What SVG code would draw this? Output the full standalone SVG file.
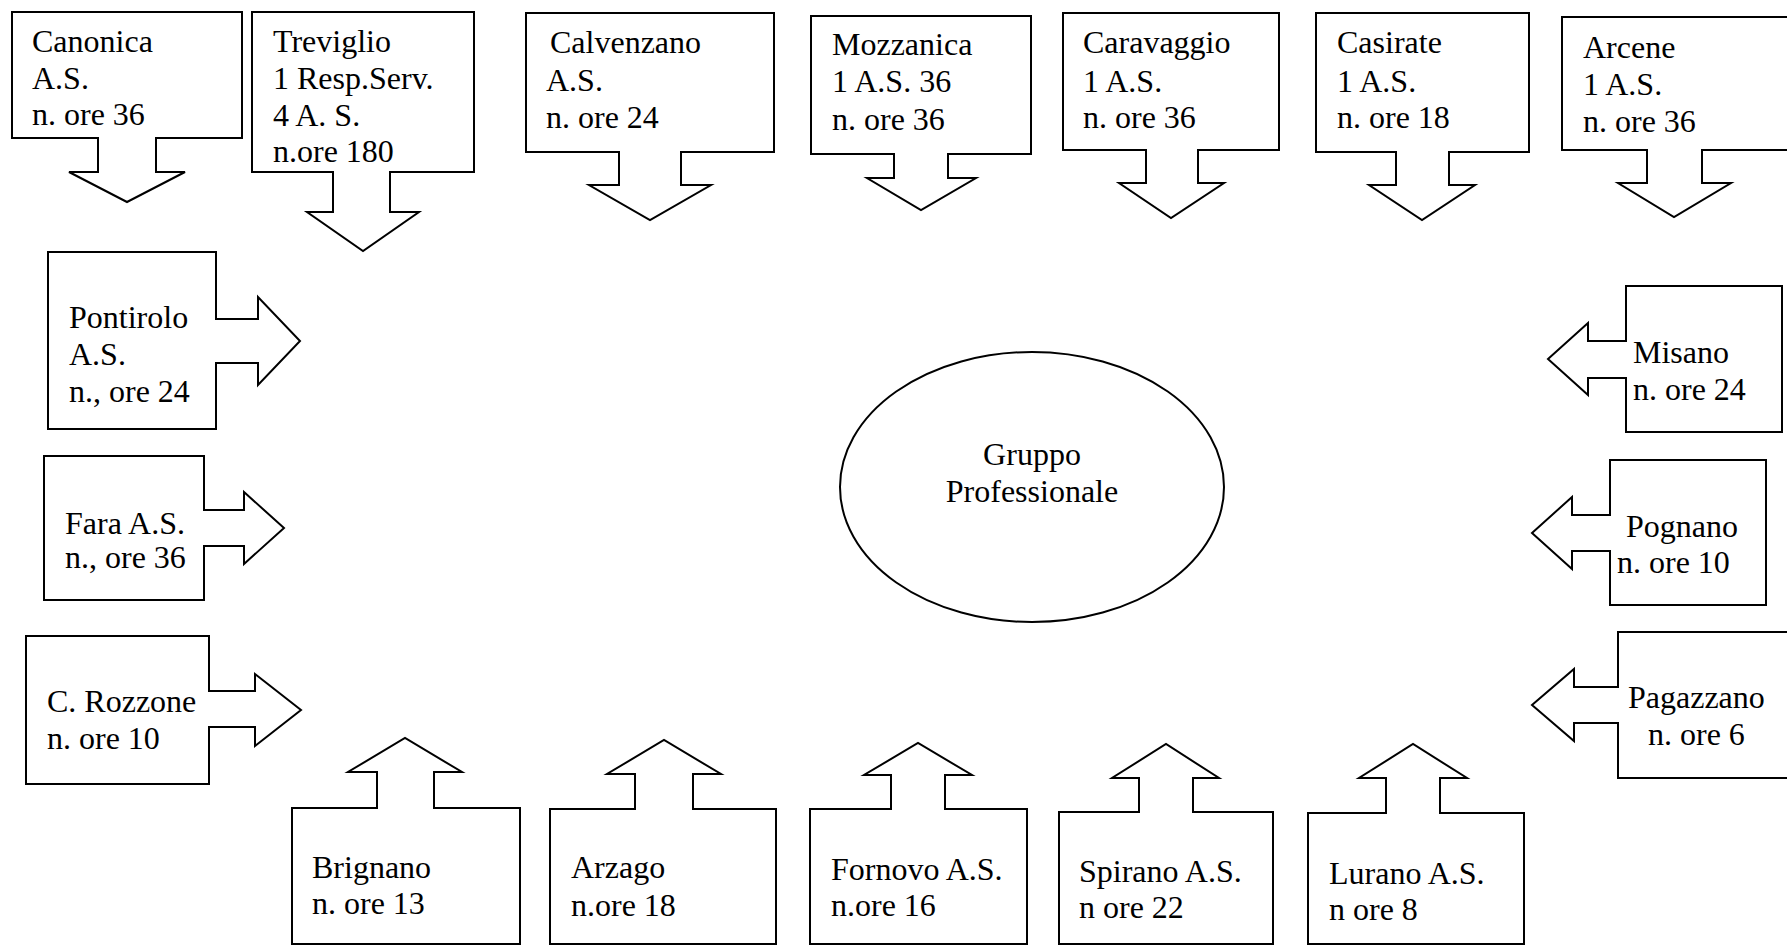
<svg xmlns="http://www.w3.org/2000/svg" width="1787" height="946" viewBox="0 0 1787 946">
<style>
.b{fill:#fff;stroke:#000;stroke-width:2}
.a{fill:#fff;stroke:#000;stroke-width:2;stroke-linejoin:miter}
.t{font-family:"Liberation Serif","Times New Roman",serif;font-size:32px;fill:#000}
.c{text-anchor:middle}
</style>
<rect width="1787" height="946" fill="#fff"/>
<g id="nodes">
<g id="canonica"><rect class="b" x="12" y="12" width="230" height="126"/><text class="t" x="32" y="52">Canonica</text><text class="t" x="32" y="89">A.S.</text><text class="t" x="32" y="125">n. ore 36</text></g>
<g id="treviglio"><rect class="b" x="252" y="12" width="222" height="160"/><text class="t" x="273" y="52">Treviglio</text><text class="t" x="273" y="89">1 Resp.Serv.</text><text class="t" x="273" y="126">4 A. S.</text><text class="t" x="273" y="162">n.ore 180</text></g>
<g id="calvenzano"><rect class="b" x="526" y="13" width="248" height="139"/><text class="t" x="550" y="53">Calvenzano</text><text class="t" x="546" y="91">A.S.</text><text class="t" x="546" y="128">n. ore 24</text></g>
<g id="mozzanica"><rect class="b" x="811" y="16" width="220" height="138"/><text class="t" x="832" y="55">Mozzanica</text><text class="t" x="832" y="92">1 A.S. 36</text><text class="t" x="832" y="130">n. ore 36</text></g>
<g id="caravaggio"><rect class="b" x="1063" y="13" width="216" height="137"/><text class="t" x="1083" y="53">Caravaggio</text><text class="t" x="1083" y="92">1 A.S.</text><text class="t" x="1083" y="128">n. ore 36</text></g>
<g id="casirate"><rect class="b" x="1316" y="13" width="213" height="139"/><text class="t" x="1337" y="53">Casirate</text><text class="t" x="1337" y="92">1 A.S.</text><text class="t" x="1337" y="128">n. ore 18</text></g>
<g id="arcene"><rect class="b" x="1562" y="17" width="240" height="133"/><text class="t" x="1583" y="58">Arcene</text><text class="t" x="1583" y="95">1 A.S.</text><text class="t" x="1583" y="132">n. ore 36</text></g>
<g id="pontirolo"><rect class="b" x="48" y="252" width="168" height="177"/><text class="t" x="69" y="328">Pontirolo</text><text class="t" x="69" y="365">A.S.</text><text class="t" x="69" y="402">n., ore 24</text></g>
<g id="fara"><rect class="b" x="44" y="456" width="160" height="144"/><text class="t" x="65" y="534">Fara A.S.</text><text class="t" x="65" y="568">n., ore 36</text></g>
<g id="rozzone"><rect class="b" x="26" y="636" width="183" height="148"/><text class="t" x="47" y="712">C. Rozzone</text><text class="t" x="47" y="749">n. ore 10</text></g>
<g id="misano"><rect class="b" x="1626" y="286" width="156" height="146"/><text class="t" x="1633" y="363">Misano</text><text class="t" x="1633" y="400">n. ore 24</text></g>
<g id="pognano"><rect class="b" x="1610" y="460" width="156" height="145"/><text class="t" x="1626" y="537">Pognano</text><text class="t" x="1617" y="573">n. ore 10</text></g>
<g id="pagazzano"><rect class="b" x="1618" y="632" width="200" height="146"/><text class="t" x="1628" y="708">Pagazzano</text><text class="t" x="1648" y="745">n. ore 6</text></g>
<g id="brignano"><rect class="b" x="292" y="808" width="228" height="136"/><text class="t" x="312" y="878">Brignano</text><text class="t" x="312" y="914">n. ore 13</text></g>
<g id="arzago"><rect class="b" x="550" y="809" width="226" height="135"/><text class="t" x="571" y="878">Arzago</text><text class="t" x="571" y="916">n.ore 18</text></g>
<g id="fornovo"><rect class="b" x="810" y="809" width="217" height="135"/><text class="t" x="831" y="880">Fornovo A.S.</text><text class="t" x="831" y="916">n.ore 16</text></g>
<g id="spirano"><rect class="b" x="1059" y="812" width="214" height="132"/><text class="t" x="1079" y="882">Spirano A.S.</text><text class="t" x="1079" y="918">n ore 22</text></g>
<g id="lurano"><rect class="b" x="1308" y="813" width="216" height="131"/><text class="t" x="1329" y="884">Lurano A.S.</text><text class="t" x="1329" y="920">n ore 8</text></g>
<g id="gruppo"><ellipse class="b" cx="1032" cy="487" rx="192" ry="135"/><text class="t c" x="1032" y="465">Gruppo</text><text class="t c" x="1032" y="502">Professionale</text></g>
</g>
<g id="connectors">
<path class="a" d="M98,137 V172 H69 L127,202 L185,172 H156 V137"/>
<path class="a" d="M333,171 V212 H307 L363,251 L419,212 H390 V171"/>
<path class="a" d="M619,151 V185 H589 L650,220 L711,185 H681 V151"/>
<path class="a" d="M894,153 V178 H867 L921,210 L976,178 H948 V153"/>
<path class="a" d="M1146,149 V183 H1119 L1171,218 L1224,183 H1198 V149"/>
<path class="a" d="M1396,151 V185 H1369 L1422,220 L1475,185 H1449 V151"/>
<path class="a" d="M1647,149 V183 H1618 L1674,217 L1731,183 H1702 V149"/>
<path class="a" d="M215,319 H258 V297 L300,341 L258,385 V363 H215"/>
<path class="a" d="M203,510 H244 V492 L284,528 L244,564 V546 H203"/>
<path class="a" d="M208,691 H255 V674 L301,710 L255,746 V727 H208"/>
<path class="a" d="M1627,341 H1588 V323 L1548,359 L1588,395 V378 H1627"/>
<path class="a" d="M1611,515 H1572 V497 L1532,533 L1572,569 V551 H1611"/>
<path class="a" d="M1619,687 H1574 V669 L1532,705 L1574,741 V723 H1619"/>
<path class="a" d="M377,809 V772 H348 L405,738 L462,772 H434 V809"/>
<path class="a" d="M635,810 V774 H607 L664,740 L721,774 H693 V810"/>
<path class="a" d="M891,810 V775 H864 L918,743 L972,775 H945 V810"/>
<path class="a" d="M1139,813 V778 H1112 L1166,744 L1219,778 H1193 V813"/>
<path class="a" d="M1386,814 V778 H1359 L1413,744 L1467,778 H1440 V814"/>
</g>
</svg>
